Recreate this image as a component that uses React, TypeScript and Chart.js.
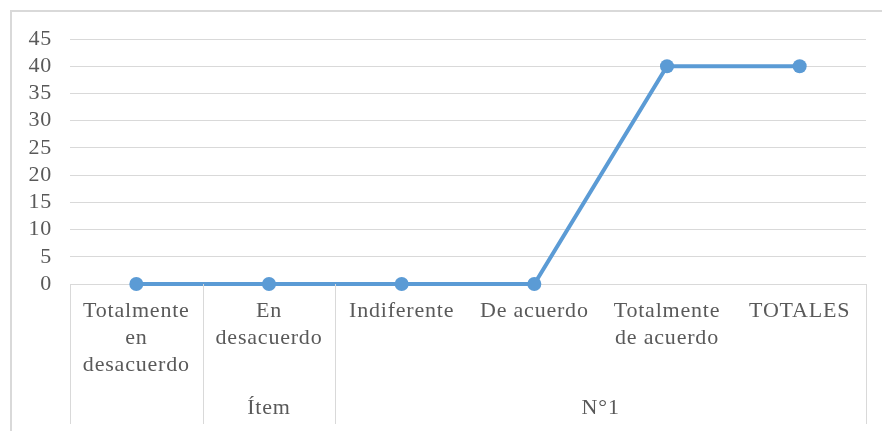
import React, { useEffect, useRef } from 'react';
import { Chart, registerables } from 'chart.js';

Chart.register(...registerables);

// Level-1 categories (each entry = wrapped lines)
const categories: string[][] = [
  ['Totalmente', 'en', 'desacuerdo'],
  ['En', 'desacuerdo'],
  ['Indiferente'],
  ['De acuerdo'],
  ['Totalmente', 'de acuerdo'],
  ['TOTALES'],
];
// Level-2 group labels and how many categories each spans
const groupLabels: string[] = ['', 'Ítem', 'N°1'];
const groupSpans: number[] = [1, 1, 4];
// Series values
const values: number[] = [0, 0, 0, 0, 40, 40];
// Y axis range
const yMin = 0;
const yMax = 45;
const yStep = 5;

const FONT = '"Liberation Serif", "Times New Roman", serif';
const TEXT = '#595959';
const GRID = '#d9d9d9';
const LINE = '#5b9bd5';

const decor = {
  id: 'decor',
  beforeDraw(chart: any) {
    const ctx = chart.ctx;
    ctx.save();
    ctx.fillStyle = '#ffffff';
    ctx.fillRect(0, 0, chart.width, chart.height);
    ctx.strokeStyle = GRID;
    ctx.lineWidth = 2;
    ctx.strokeRect(11, 11, chart.width + 40, chart.height + 40);
    ctx.restore();
    ctx.letterSpacing = '0.8px';
  },
  afterDraw(chart: any) {
    const ctx = chart.ctx;
    const x = chart.scales.x;
    const area = chart.chartArea;
    const step = x.getPixelForValue(1) - x.getPixelForValue(0);
    const bounds: number[] = [x.getPixelForValue(0) - step / 2];
    let idx = 0;
    groupSpans.forEach((s) => {
      idx += s;
      bounds.push(x.getPixelForValue(idx - 1) + step / 2);
    });
    ctx.save();
    ctx.strokeStyle = GRID;
    ctx.lineWidth = 1;
    bounds.forEach((b) => {
      const px = Math.round(b) + 0.5;
      ctx.beginPath();
      ctx.moveTo(px, area.bottom);
      ctx.lineTo(px, chart.height - 7);
      ctx.stroke();
    });
    ctx.letterSpacing = '0.8px';
    ctx.font = `22px ${FONT}`;
    ctx.fillStyle = TEXT;
    ctx.textAlign = 'center';
    ctx.textBaseline = 'middle';
    groupLabels.forEach((g, i) => {
      if (g) ctx.fillText(g, (bounds[i] + bounds[i + 1]) / 2, 408);
    });
    ctx.restore();
  },
};

export default function App() {
  const ref = useRef<HTMLCanvasElement>(null);
  useEffect(() => {
    document.body.style.margin = '0';
    const canvas = ref.current!;
    const chart = new Chart(canvas, {
      type: 'line',
      data: {
        labels: categories as any,
        datasets: [
          {
            data: values,
            borderColor: LINE,
            backgroundColor: LINE,
            borderWidth: 4,
            pointRadius: 7,
            pointBackgroundColor: LINE,
            pointBorderWidth: 0,
            tension: 0,
            clip: false as any,
          },
        ],
      },
      options: {
        responsive: false,
        animation: false,
        layout: { padding: { left: 10, right: 16, top: 39, bottom: 0 } },
        plugins: { legend: { display: false }, tooltip: { enabled: false } },
        scales: {
          x: {
            offset: true,
            grid: { display: false, drawTicks: false, offset: true },
            border: { display: true, color: GRID, width: 1 },
            ticks: {
              autoSkip: false,
              maxRotation: 0,
              minRotation: 0,
              padding: 14,
              color: TEXT,
              font: { family: FONT, size: 22, lineHeight: 1.22 },
            },
            afterFit: (s: any) => {
              s.height = 147;
            },
          },
          y: {
            min: yMin,
            max: yMax,
            grid: { color: GRID, lineWidth: 1, drawTicks: false },
            border: { display: false },
            ticks: {
              stepSize: yStep,
              autoSkip: false,
              padding: 18,
              color: TEXT,
              font: { family: FONT, size: 22, lineHeight: 1.0 },
            },
            afterFit: (s: any) => {
              s.width = 60;
            },
          },
        },
      },
      plugins: [decor],
    });
    return () => chart.destroy();
  }, []);
  return <canvas ref={ref} width={882} height={431} style={{ display: 'block' }} />;
}
